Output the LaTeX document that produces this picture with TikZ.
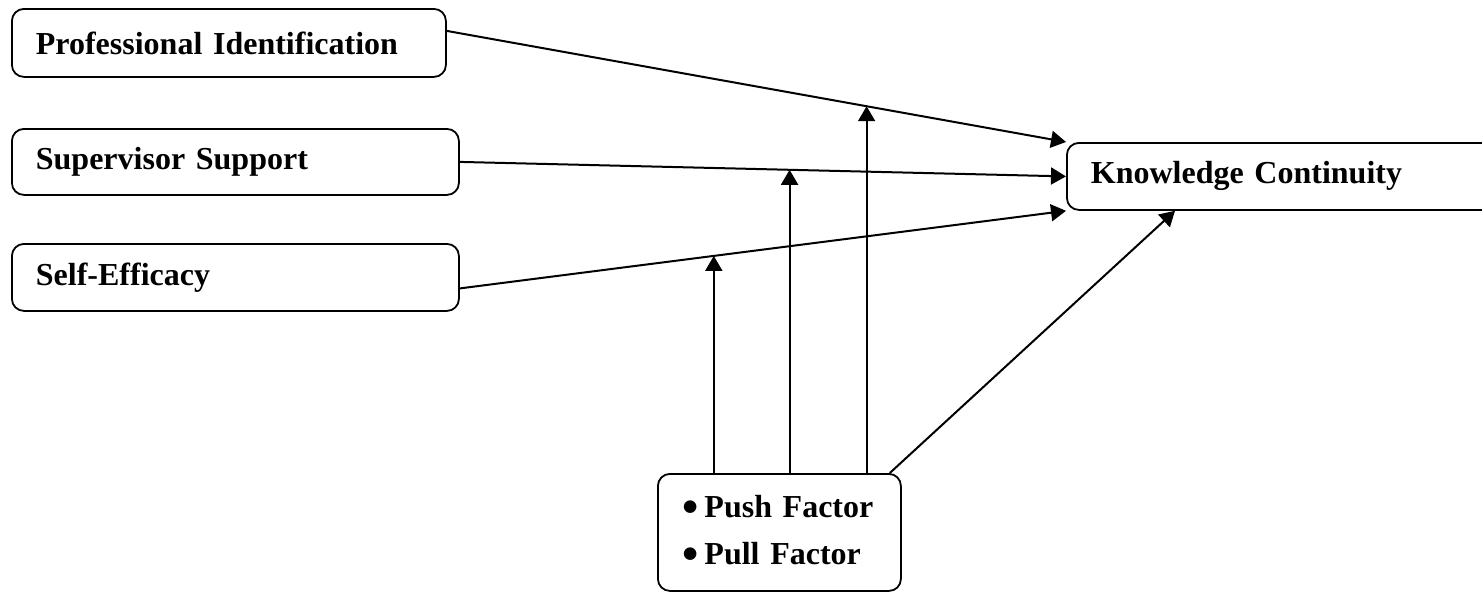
\documentclass[tikz,border=0pt]{standalone}
\usepackage{fontspec}
\setmainfont{Liberation Serif}
\usepackage{tikz}
\usetikzlibrary{arrows.meta,positioning,calc}
\tikzstyle{construct} = [rectangle, rounded corners=6pt, draw, line width=0.9pt, anchor=north west, align=left, inner xsep=12pt, inner ysep=0pt, minimum height=33.5pt, font=\bfseries\fontsize{16}{23.5}\selectfont]
\tikzstyle{arrow} = [line width=1pt, -{Triangle[length=7.5pt,width=8.5pt]}]
\newcommand{\bigbullet}{\raisebox{-2.2pt}{\scalebox{1.45}{\textbullet}}\,}

\begin{document}
\begin{tikzpicture}[x=0.5pt,y=-0.5pt]
\clip (0,0) rectangle (1482,591);
\node[construct, text width=193pt, minimum height=34pt] (pi) at (11,8) {Professional Identification};
\node[construct, text width=199.5pt, minimum height=33pt] (ss) at (11,128) {Supervisor Support};
\node[construct, text width=199.5pt] (se) at (11,243) {Self-Efficacy};
\node[construct, text width=208pt] (kc) at (1066,142) {Knowledge Continuity};
\node[construct, text width=96.5pt, inner xsep=12.5pt, minimum height=58.5pt] (pf) at (657,473) {\bigbullet Push Factor\\\bigbullet Pull Factor};

% direct effects
\draw[arrow] ([yshift=6pt]pi.east) -- coordinate[pos=0.678] (m3) (kc.north west);
\draw[arrow] (ss.east) -- coordinate[pos=0.544] (m2) (kc.west);
\draw[arrow] ([yshift=-5.5pt]se.east) -- coordinate[pos=0.419] (m1) (kc.south west);
\draw[arrow] ([xshift=-6pt]pf.north east) -- ([xshift=54.5pt]kc.south west);

% moderating effects
\draw[arrow] (m1 |- pf.north) -- (m1);
\draw[arrow] (m2 |- pf.north) -- (m2);
\draw[arrow] (m3 |- pf.north) -- (m3);
\end{tikzpicture}
\end{document}
